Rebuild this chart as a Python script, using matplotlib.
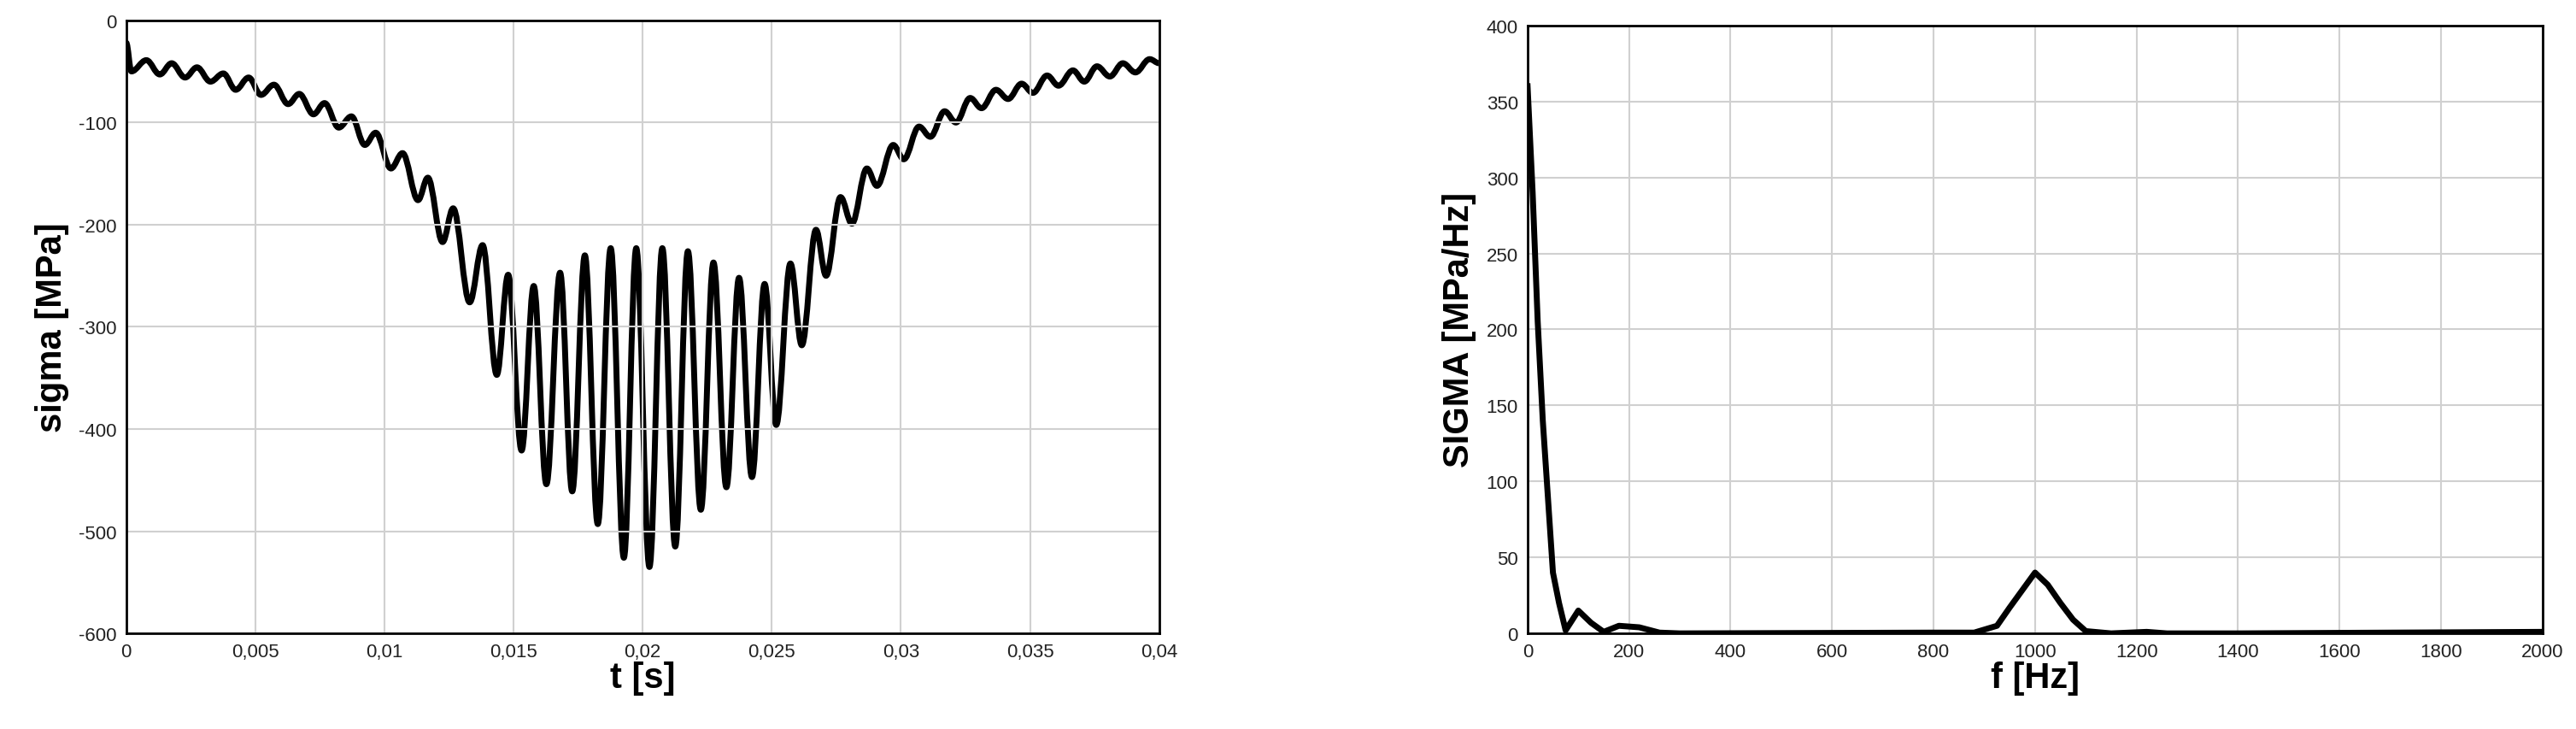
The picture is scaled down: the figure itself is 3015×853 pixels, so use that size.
import matplotlib
matplotlib.use("Agg")
import matplotlib.pyplot as plt
from matplotlib.path import Path
from matplotlib.patches import PathPatch

plt.rcParams['font.family'] = ['Liberation Sans', 'DejaVu Sans']
plt.rcParams['axes.unicode_minus'] = False

# Time signal (extrema)
t = [0.0, 0.0002, 0.00078, 0.0013, 0.00176, 0.00228, 0.00274, 0.00326, 0.00376, 0.00424,
     0.00474, 0.00522, 0.00572, 0.00627, 0.0067, 0.00725, 0.00768, 0.00823, 0.00872, 0.00924,
     0.00966, 0.01025, 0.0107, 0.0113, 0.01168, 0.01225, 0.01266, 0.01330, 0.0138, 0.01435,
     0.01479, 0.01531, 0.01578, 0.01627, 0.0168, 0.01727, 0.01776, 0.01826, 0.01876, 0.01927,
     0.01975, 0.02026, 0.02076, 0.02126, 0.02175, 0.02225, 0.02274, 0.02324, 0.02373, 0.02423,
     0.02472, 0.02517, 0.02572, 0.02616, 0.02671, 0.02710, 0.02766, 0.0281, 0.02868, 0.02907,
     0.0297, 0.03011, 0.0307, 0.03114, 0.03169, 0.03213, 0.03268, 0.03312, 0.03368, 0.03415,
     0.03467, 0.03511, 0.03566, 0.0361, 0.03666, 0.0371, 0.03759, 0.03809, 0.03859, 0.03908,
     0.03963, 0.04]
sigma = [-22, -50, -39, -53, -42, -56, -46, -60, -52, -68,
         -56, -73, -63, -82, -72, -92, -81, -105, -94, -122,
         -110, -145, -130, -176, -154, -217, -184, -276, -220, -347,
         -249, -421, -260, -454, -247, -461, -230, -493, -223, -526,
         -223, -535, -223, -515, -226, -479, -237, -457, -252, -447,
         -258, -396, -238, -318, -205, -250, -173, -199, -145, -162,
         -122, -136, -104, -114, -89, -100, -76, -86, -68, -77,
         -62, -71, -54, -64, -49, -60, -45, -55, -42, -51,
         -38, -42]

# Spectrum
f = [0, 10, 20, 30, 40, 50, 62, 75, 100, 125, 150, 180, 220, 260, 300, 800, 880, 925, 950,
     1000, 1025, 1050, 1075, 1100, 1150, 1220, 1260, 1400, 2000]
S = [360, 290, 205, 140, 90, 40, 20, 2, 15, 7, 1, 5, 4, 0.5, 0, 0.5, 0.5, 5, 17,
     40, 32, 20, 9, 1.5, 0, 1, 0, 0, 1]

fig = plt.figure(figsize=(30.15, 8.54), dpi=100)
ax1 = fig.add_axes([0.049, 0.131, 0.401, 0.84])
ax2 = fig.add_axes([0.593, 0.131, 0.394, 0.833])

# smooth curve through the extrema (horizontal tangents at each extremum)
verts = [(t[0], sigma[0])]
codes = [Path.MOVETO]
for i in range(1, len(t)):
    dt = t[i] - t[i - 1]
    verts += [(t[i - 1] + 0.364 * dt, sigma[i - 1]), (t[i] - 0.364 * dt, sigma[i]), (t[i], sigma[i])]
    codes += [Path.CURVE4] * 3
ax1.add_patch(PathPatch(Path(verts, codes), facecolor='none', edgecolor='black',
                        lw=5, joinstyle='round', capstyle='round'))
ax1.set_xlim(0, 0.04)
ax1.set_ylim(-600, 0)
ax1.set_xticks([0, 0.005, 0.01, 0.015, 0.02, 0.025, 0.03, 0.035, 0.04])
ax1.set_xticklabels(['0', '0,005', '0,01', '0,015', '0,02', '0,025', '0,03', '0,035', '0,04'])
ax1.set_yticks(range(-600, 1, 100))
ax1.set_xlabel('t [s]', fontsize=30, fontweight='bold', labelpad=0)
ax1.set_ylabel('sigma [MPa]', fontsize=30, fontweight='bold', labelpad=8)

ax2.plot(f, S, color='black', lw=5, solid_joinstyle='round')
ax2.set_xlim(0, 2000)
ax2.set_ylim(0, 400)
ax2.set_xticks(range(0, 2001, 200))
ax2.set_yticks(range(0, 401, 50))
ax2.set_xlabel('f [Hz]', fontsize=30, fontweight='bold', labelpad=0)
ax2.set_ylabel('SIGMA [MPa/Hz]', fontsize=30, fontweight='bold', labelpad=8)

for ax in (ax1, ax2):
    ax.grid(True, color='#d0d0d0', lw=1.5)
    ax.tick_params(labelsize=16, length=0, pad=8, labelcolor='#222222')
    for s in ax.spines.values():
        s.set_linewidth(2)
        s.set_color('black')

fig.savefig('out.png', dpi=100, facecolor='white')
